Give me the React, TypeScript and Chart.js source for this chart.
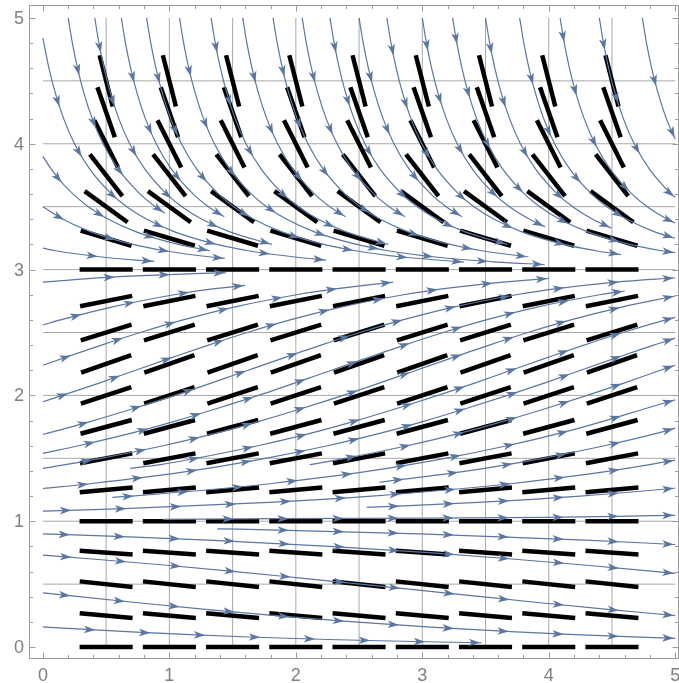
import React, { useEffect, useRef } from "react";
import { Chart, registerables } from "chart.js";

Chart.register(...registerables);

// ---------- axis / grid values ----------
const X_TICKS = [0, 1, 2, 3, 4, 5];
const Y_TICKS = [0, 1, 2, 3, 4, 5];
const GRID_X = [0.5, 1, 1.5, 2, 2.5, 3, 3.5, 4, 4.5];
const GRID_Y = [0.5, 1, 1.5, 2, 2.5, 3, 3.5, 4, 4.5];

// ---------- slope-field segments ----------
const SEG_COLS = [0.5, 1, 1.5, 2, 2.5, 3, 3.5, 4, 4.5];
const SEG_ROWS = [0, 0.25, 0.5, 0.75, 1, 1.25, 1.5, 1.75, 2, 2.25, 2.5, 2.75, 3, 3.25, 3.5, 3.75, 4, 4.25, 4.5];
const SEG_SLOPES = [0, -0.09, -0.105, -0.07, 0, 0.09, 0.19, 0.27, 0.33, 0.35, 0.31, 0.2, 0, -0.3, -0.73, -1.29, -2.0, -2.88, -3.94];

// ---------- stream lines ----------
const STREAMS_UPPER: number[][][] = [
  [[0, 4.84], [0.048, 4.6], [0.099, 4.4], [0.164, 4.2], [0.25, 4.0], [0.369, 3.8], [0.543, 3.6], [0.663, 3.5], [0.822, 3.4], [1.042, 3.3], [1.375, 3.2], [1.625, 3.15], [1.993, 3.1], [2.24, 3.075]],
  [[0, 3.9], [0.065, 3.8], [0.143, 3.7], [0.239, 3.6], [0.359, 3.5], [0.518, 3.4], [0.738, 3.3], [1.071, 3.2], [1.321, 3.15]],
  [[0, 3.5], [0.159, 3.4], [0.379, 3.3], [0.712, 3.2], [0.962, 3.15], [1.33, 3.1], [1.44, 3.09]],
  [[0, 3.17], [0.1, 3.15], [0.466, 3.1], [0.88, 3.065]],
  [[0.2, 5], [0.233, 4.8], [0.274, 4.6], [0.325, 4.4], [0.39, 4.2], [0.476, 4.0], [0.595, 3.8], [0.769, 3.6], [0.889, 3.5], [0.963, 3.45]],
  [[0.41, 5], [0.443, 4.8], [0.484, 4.6], [0.535, 4.4], [0.6, 4.2], [0.686, 4.0], [0.805, 3.8], [0.979, 3.6], [1.099, 3.5], [1.258, 3.4], [1.478, 3.3], [1.811, 3.2]],
  [[0.62, 5], [0.653, 4.8], [0.694, 4.6], [0.745, 4.4], [0.81, 4.2], [0.896, 4.0], [1.015, 3.8], [1.189, 3.6], [1.309, 3.5], [1.434, 3.42]],
  [[0.82, 5], [0.853, 4.8], [0.894, 4.6], [0.945, 4.4], [1.01, 4.2], [1.096, 4.0], [1.215, 3.8], [1.389, 3.6], [1.509, 3.5], [1.668, 3.4], [1.888, 3.3], [2.221, 3.2], [2.471, 3.15], [2.839, 3.1], [3.33, 3.06]],
  [[1.08, 5], [1.113, 4.8], [1.154, 4.6], [1.205, 4.4], [1.27, 4.2], [1.356, 4.0], [1.475, 3.8], [1.649, 3.6], [1.769, 3.5], [1.928, 3.4], [2.148, 3.3], [2.481, 3.2], [2.731, 3.15], [3.099, 3.1], [3.59, 3.06], [3.967, 3.04]],
  [[1.33, 5], [1.363, 4.8], [1.404, 4.6], [1.455, 4.4], [1.52, 4.2], [1.606, 4.0], [1.725, 3.8], [1.899, 3.6], [2.019, 3.5], [2.178, 3.4], [2.398, 3.3], [2.731, 3.2]],
  [[1.58, 5], [1.613, 4.8], [1.654, 4.6], [1.705, 4.4], [1.77, 4.2], [1.856, 4.0], [1.975, 3.8], [2.149, 3.6], [2.269, 3.5], [2.394, 3.42]],
  [[1.82, 5], [1.853, 4.8], [1.894, 4.6], [1.945, 4.4], [2.01, 4.2], [2.096, 4.0], [2.215, 3.8], [2.389, 3.6], [2.509, 3.5], [2.668, 3.4], [2.888, 3.3], [3.221, 3.2], [3.471, 3.15], [3.839, 3.1]],
  [[2.05, 5], [2.083, 4.8], [2.124, 4.6], [2.175, 4.4], [2.24, 4.2], [2.326, 4.0], [2.445, 3.8], [2.619, 3.6], [2.739, 3.5], [2.864, 3.42]],
  [[2.27, 5], [2.303, 4.8], [2.344, 4.6], [2.395, 4.4], [2.46, 4.2], [2.546, 4.0], [2.665, 3.8], [2.839, 3.6], [2.959, 3.5], [3.118, 3.4], [3.338, 3.3], [3.671, 3.2]],
  [[2.5, 5], [2.533, 4.8], [2.574, 4.6], [2.625, 4.4], [2.69, 4.2], [2.776, 4.0], [2.895, 3.8], [3.069, 3.6], [3.189, 3.5], [3.314, 3.42]],
  [[2.72, 5], [2.753, 4.8], [2.794, 4.6], [2.845, 4.4], [2.91, 4.2], [2.996, 4.0], [3.115, 3.8], [3.289, 3.6], [3.409, 3.5], [3.568, 3.4], [3.788, 3.3], [4.121, 3.2], [4.371, 3.15], [4.571, 3.12]],
  [[3.0, 5], [3.033, 4.8], [3.074, 4.6], [3.125, 4.4], [3.19, 4.2], [3.276, 4.0], [3.395, 3.8], [3.569, 3.6], [3.689, 3.5], [3.848, 3.4], [3.972, 3.34]],
  [[3.24, 5], [3.273, 4.8], [3.314, 4.6], [3.365, 4.4], [3.43, 4.2], [3.516, 4.0], [3.635, 3.8], [3.809, 3.6], [3.929, 3.5], [4.088, 3.4], [4.308, 3.3], [4.641, 3.2], [4.891, 3.15], [5, 3.135]],
  [[3.5, 5], [3.533, 4.8], [3.574, 4.6], [3.625, 4.4], [3.69, 4.2], [3.776, 4.0], [3.895, 3.8], [4.069, 3.6], [4.189, 3.5], [4.348, 3.4], [4.496, 3.33]],
  [[3.77, 5], [3.803, 4.8], [3.844, 4.6], [3.895, 4.4], [3.96, 4.2], [4.046, 4.0], [4.165, 3.8], [4.339, 3.6], [4.459, 3.5], [4.618, 3.4], [4.838, 3.3], [5, 3.249]],
  [[4.09, 5], [4.123, 4.8], [4.164, 4.6], [4.215, 4.4], [4.28, 4.2], [4.366, 4.0], [4.485, 3.8], [4.659, 3.6], [4.779, 3.5], [4.938, 3.4], [5, 3.37]],
  [[4.4, 5], [4.433, 4.8], [4.474, 4.6], [4.525, 4.4], [4.59, 4.2], [4.676, 4.0], [4.795, 3.8], [4.969, 3.6], [5, 3.574]],
  [[4.74, 5], [4.773, 4.8], [4.814, 4.6], [4.865, 4.4], [4.93, 4.2], [5, 4.037]],
];

const STREAMS_MIDDLE: number[][][] = [
  [[0, 2.9], [0.38, 2.93], [0.736, 2.95], [1.26, 2.97], [1.45, 2.975]],
  [[0, 2.56], [0.14, 2.6], [0.534, 2.7], [1.038, 2.8], [1.374, 2.85], [1.6, 2.875]],
  [[0, 2.24], [0.172, 2.3], [0.463, 2.4], [0.77, 2.5], [1.109, 2.6], [1.503, 2.7], [2.007, 2.8], [2.343, 2.85], [2.77, 2.9]],
  [[0, 1.95], [0.154, 2.0], [0.45, 2.1], [0.733, 2.2], [1.018, 2.3], [1.309, 2.4], [1.616, 2.5], [1.955, 2.6], [2.349, 2.7], [2.853, 2.8], [3.189, 2.85], [3.64, 2.9], [4.0, 2.93]],
  [[0, 1.69], [0.04, 1.7], [0.4, 1.8], [0.73, 1.9], [1.044, 2.0], [1.623, 2.2], [2.199, 2.4], [2.506, 2.5], [2.845, 2.6], [3.239, 2.7], [3.743, 2.8], [4.079, 2.85], [4.53, 2.9], [5, 2.935]],
  [[0, 1.54], [0.28, 1.6], [0.7, 1.7], [1.06, 1.8], [1.39, 1.9], [1.704, 2.0], [2.283, 2.2], [2.859, 2.4], [3.166, 2.5], [3.505, 2.6], [3.899, 2.7], [4.403, 2.8], [4.6, 2.83]],
  [[0, 1.42], [0.46, 1.5], [0.95, 1.6], [1.37, 1.7], [1.73, 1.8], [2.06, 1.9], [2.374, 2.0], [2.953, 2.2], [3.529, 2.4], [3.836, 2.5], [4.175, 2.6], [4.569, 2.7], [5, 2.79]],
  [[0, 1.26], [0.39, 1.3], [1.17, 1.4], [1.76, 1.5], [2.25, 1.6], [2.67, 1.7], [3.03, 1.8], [3.36, 1.9], [3.674, 2.0], [3.97, 2.1], [4.253, 2.2], [4.538, 2.3], [4.829, 2.4], [5, 2.455]],
  [[0, 1.08], [0.64, 1.1], [1.79, 1.15], [2.6, 1.2], [3.32, 1.26], [3.71, 1.3], [4.49, 1.4], [5, 1.485]],
  [[0.69, 1.42], [0.93, 1.45], [1.21, 1.5], [1.7, 1.6], [2.12, 1.7], [2.48, 1.8], [2.81, 1.9], [3.124, 2.0], [3.42, 2.1], [3.703, 2.2], [3.988, 2.3], [4.279, 2.4], [4.586, 2.5], [4.925, 2.6], [5, 2.62]],
  [[0.55, 1.19], [0.7, 1.2], [1.42, 1.26], [1.81, 1.3], [2.59, 1.4], [3.18, 1.5], [3.67, 1.6], [4.09, 1.7], [4.45, 1.8], [4.78, 1.9], [5, 1.965]],
  [[2.11, 1.45], [2.39, 1.5], [2.88, 1.6], [3.3, 1.7], [3.66, 1.8], [3.99, 1.9], [4.304, 2.0], [4.6, 2.1], [4.883, 2.2], [5, 2.24]],
  [[2.66, 1.31], [3.36, 1.4], [3.95, 1.5], [4.44, 1.6], [4.86, 1.7], [5, 1.74]],
  [[2.56, 1.11], [3.44, 1.15], [4.25, 1.2], [4.97, 1.26], [5, 1.263]],
  [[0.95, 1.015], [1.83, 1.02], [3.11, 1.025], [3.97, 1.03], [4.82, 1.044], [5, 1.047]],
];

const STREAMS_LOWER: number[][][] = [
  [[0, 0.16], [0.16, 0.15], [0.7, 0.12], [1.12, 0.1], [1.63, 0.08], [1.93, 0.07], [2.26, 0.06], [2.66, 0.05], [3.13, 0.04], [3.47, 0.034]],
  [[0, 0.43], [0.285, 0.4], [0.773, 0.35], [1.285, 0.3], [1.838, 0.25], [2.46, 0.2], [3.04, 0.16], [3.2, 0.15], [3.74, 0.12], [4.16, 0.1], [5, 0.069]],
  [[0, 0.73], [0.39, 0.7], [0.98, 0.65], [1.52, 0.6], [2.02, 0.55], [2.51, 0.5], [2.99, 0.45], [3.465, 0.4], [3.953, 0.35], [4.465, 0.3], [5, 0.25]],
  [[0, 0.9], [0.58, 0.88], [1.31, 0.85], [2.27, 0.8], [3.05, 0.75], [3.71, 0.7], [4.3, 0.65], [5, 0.585]],
  [[1.38, 0.94], [1.86, 0.93], [2.98, 0.9], [4.29, 0.85], [5, 0.815]],
];

// ---------- styles ----------
const STREAM_COLOR = "rgb(90,118,162)";
const GRID_COLOR = "#a9a9a9";
const FRAME_COLOR = "#9a9a9a";
const LABEL_COLOR = "#808080";
const SEG_HALF = 0.21;

const arrowPlugin = {
  id: "streamArrows",
  afterDatasetsDraw(chart: any) {
    const ctx = chart.ctx;
    const area = chart.chartArea;
    ctx.save();
    ctx.beginPath();
    ctx.rect(area.left, area.top, area.right - area.left, area.bottom - area.top);
    ctx.clip();
    ctx.fillStyle = STREAM_COLOR;
    chart.data.datasets.forEach((ds: any, i: number) => {
      if (!ds.isStream) return;
      const pts: any[] = chart.getDatasetMeta(i).data;
      if (!pts || pts.length < 2) return;
      const poly: number[][] = [[pts[0].x, pts[0].y]];
      for (let k = 1; k < pts.length; k++) {
        const q = pts[k - 1];
        const p = pts[k];
        const c1x = q.cp2x ?? q.x, c1y = q.cp2y ?? q.y;
        const c2x = p.cp1x ?? p.x, c2y = p.cp1y ?? p.y;
        for (let t = 1; t <= 20; t++) {
          const u = t / 20, v = 1 - u;
          const x = v * v * v * q.x + 3 * v * v * u * c1x + 3 * v * u * u * c2x + u * u * u * p.x;
          const y = v * v * v * q.y + 3 * v * v * u * c1y + 3 * v * u * u * c2y + u * u * u * p.y;
          poly.push([x, y]);
        }
      }
      const cum: number[] = [0];
      for (let k = 1; k < poly.length; k++) {
        cum.push(cum[k - 1] + Math.hypot(poly[k][0] - poly[k - 1][0], poly[k][1] - poly[k - 1][1]));
      }
      const L = cum[cum.length - 1];
      for (let s = L - 3; s > 18; s -= 55) {
        let k = 1;
        while (k < cum.length - 1 && cum[k] < s) k++;
        const a = poly[k - 1], b = poly[k];
        const segLen = cum[k] - cum[k - 1] || 1;
        const f = (s - cum[k - 1]) / segLen;
        const x = a[0] + (b[0] - a[0]) * f;
        const y = a[1] + (b[1] - a[1]) * f;
        const ang = Math.atan2(b[1] - a[1], b[0] - a[0]);
        ctx.save();
        ctx.translate(x, y);
        ctx.rotate(ang);
        ctx.beginPath();
        ctx.moveTo(1.5, 0);
        ctx.lineTo(-10, 3.8);
        ctx.lineTo(-7, 0);
        ctx.lineTo(-10, -3.8);
        ctx.closePath();
        ctx.fill();
        ctx.restore();
      }
    });
    ctx.restore();
  },
};

const framePlugin = {
  id: "frameTicks",
  afterDraw(chart: any) {
    const ctx = chart.ctx;
    const area = chart.chartArea;
    const xs = chart.scales.x;
    const ys = chart.scales.y;
    const L = Math.round(area.left) + 0.5;
    const R = Math.round(area.right) - 0.5;
    const T = Math.round(area.top) + 0.5;
    const B = Math.round(area.bottom) - 0.5;
    ctx.save();
    ctx.strokeStyle = FRAME_COLOR;
    ctx.lineWidth = 1;
    ctx.beginPath();
    ctx.rect(L, T, R - L, B - T);
    ctx.stroke();
    // ticks
    ctx.beginPath();
    for (let i = 0; i < X_TICKS.length; i++) {
      const v0 = X_TICKS[i];
      const steps = i < X_TICKS.length - 1 ? 5 : 1;
      for (let j = 0; j < steps; j++) {
        const v = v0 + (j * (X_TICKS[1] - X_TICKS[0])) / 5;
        const px = Math.round(xs.getPixelForValue(v)) + 0.5;
        const len = j === 0 ? 6 : 3.5;
        ctx.moveTo(px, B);
        ctx.lineTo(px, B - len);
        ctx.moveTo(px, T);
        ctx.lineTo(px, T + len);
      }
    }
    for (let i = 0; i < Y_TICKS.length; i++) {
      const v0 = Y_TICKS[i];
      const steps = i < Y_TICKS.length - 1 ? 5 : 1;
      for (let j = 0; j < steps; j++) {
        const v = v0 + (j * (Y_TICKS[1] - Y_TICKS[0])) / 5;
        const py = Math.round(ys.getPixelForValue(v)) + 0.5;
        const len = j === 0 ? 6 : 3.5;
        ctx.moveTo(L, py);
        ctx.lineTo(L + len, py);
        ctx.moveTo(R, py);
        ctx.lineTo(R - len, py);
      }
    }
    ctx.stroke();
    // labels
    ctx.fillStyle = LABEL_COLOR;
    ctx.font = '18px "Liberation Sans", Arial, sans-serif';
    ctx.textAlign = "center";
    ctx.textBaseline = "alphabetic";
    X_TICKS.forEach((v) => {
      ctx.fillText(String(v), xs.getPixelForValue(v), area.bottom + 22);
    });
    ctx.textAlign = "right";
    ctx.textBaseline = "middle";
    Y_TICKS.forEach((v) => {
      ctx.fillText(String(v), area.left - 5, ys.getPixelForValue(v) + 1);
    });
    ctx.restore();
  },
};

function buildDatasets() {
  const datasets: any[] = [];
  const allStreams = [...STREAMS_UPPER, ...STREAMS_MIDDLE, ...STREAMS_LOWER];
  allStreams.forEach((s) => {
    datasets.push({
      data: s.map(([x, y]) => ({ x, y })),
      borderColor: STREAM_COLOR,
      borderWidth: 1.2,
      pointRadius: 0,
      fill: false,
      cubicInterpolationMode: "monotone",
      isStream: true,
      order: 1,
    });
  });
  SEG_ROWS.forEach((r, ri) => {
    const s = SEG_SLOPES[ri];
    const dx = SEG_HALF / Math.sqrt(1 + s * s);
    SEG_COLS.forEach((c) => {
      datasets.push({
        data: [
          { x: c - dx, y: r - s * dx },
          { x: c + dx, y: r + s * dx },
        ],
        borderColor: "#000000",
        borderWidth: 4.5,
        borderCapStyle: "butt",
        pointRadius: 0,
        fill: false,
        tension: 0,
        order: 2,
      });
    });
  });
  GRID_X.forEach((g) => {
    datasets.push({
      data: [{ x: g, y: 0 }, { x: g, y: 5 }],
      borderColor: GRID_COLOR,
      borderWidth: 1,
      pointRadius: 0,
      fill: false,
      tension: 0,
      order: 3,
    });
  });
  GRID_Y.forEach((g) => {
    datasets.push({
      data: [{ x: 0, y: g }, { x: 5, y: g }],
      borderColor: GRID_COLOR,
      borderWidth: 1,
      pointRadius: 0,
      fill: false,
      tension: 0,
      order: 3,
    });
  });
  return datasets;
}

export default function App() {
  const ref = useRef<HTMLCanvasElement>(null);
  useEffect(() => {
    if (!ref.current) return;
    const chart = new Chart(ref.current, {
      type: "line",
      data: { datasets: buildDatasets() },
      options: {
        animation: false,
        responsive: false,
        devicePixelRatio: 1,
        events: [],
        layout: { padding: { left: 29, top: 5, right: 0, bottom: 24 } },
        plugins: { legend: { display: false }, tooltip: { enabled: false } },
        scales: {
          x: { type: "linear", min: -0.11, max: 5.03, display: false },
          y: { type: "linear", min: -0.095, max: 5.103, display: false },
        },
      } as any,
      plugins: [arrowPlugin, framePlugin],
    });
    return () => chart.destroy();
  }, []);
  return (
    <div style={{ position: "fixed", left: 0, top: 0, width: 679, height: 683, background: "#fff" }}>
      <canvas ref={ref} width={679} height={683} style={{ display: "block" }} />
    </div>
  );
}
